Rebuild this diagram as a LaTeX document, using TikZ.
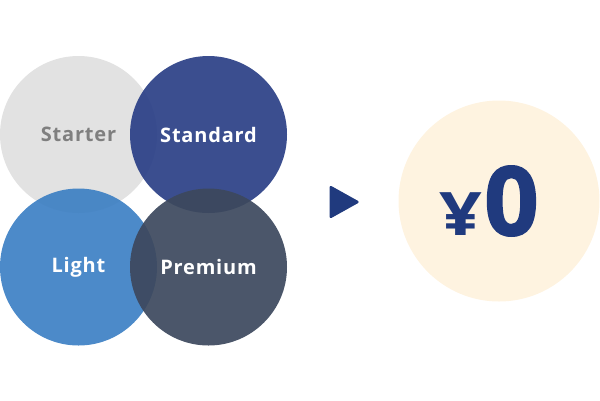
\documentclass[tikz,border=0pt]{standalone}
\usepackage{fontspec}
\setmainfont{Open Sans}
\definecolor{starterfill}{HTML}{DFDFDF}
\definecolor{startertext}{HTML}{7F7F7F}
\definecolor{standardfill}{HTML}{2A3F86}
\definecolor{lightfill}{HTML}{3D80C4}
\definecolor{premiumfill}{HTML}{3C485D}
\definecolor{navy}{HTML}{203A7E}
\definecolor{cream}{HTML}{FEF3E0}
\tikzset{
  plan/.style={circle, minimum size=157pt, inner sep=0pt, fill opacity=0.92,
    text opacity=1, text=white,
    font=\addfontfeatures{LetterSpace=4}\bfseries\fontsize{20}{20}\selectfont}
}
\begin{document}
\begin{tikzpicture}[x=1pt,y=-1pt]
  \useasboundingbox (0,0) rectangle (600,400);
  \node[plan, fill=starterfill, text=startertext] (starter) at (78.5,134.5) {Starter};
  \node[plan, fill=standardfill] (standard) at (208.5,134.5) {Standard};
  \node[plan, fill=lightfill] (light) at (78.5,267) {Light};
  \node[plan, fill=premiumfill] (premium) at (208.5,267) {Premium};
  \fill[navy, rounded corners=2.5pt] (329.5,185) -- (360,202) -- (329.5,219) -- cycle;
  \node[circle, fill=cream, minimum size=201pt, inner sep=0pt] (plate) at (499,201) {};
  \node[text=navy, font=\bfseries, inner sep=0pt] (price) at (489,201)
    {\fontsize{60}{60}\selectfont\scalebox{1.25}[1]{¥}\kern2pt%
     \fontsize{96}{96}\selectfont\addfontfeatures{FakeBold=1.5}0};
\end{tikzpicture}
\end{document}
